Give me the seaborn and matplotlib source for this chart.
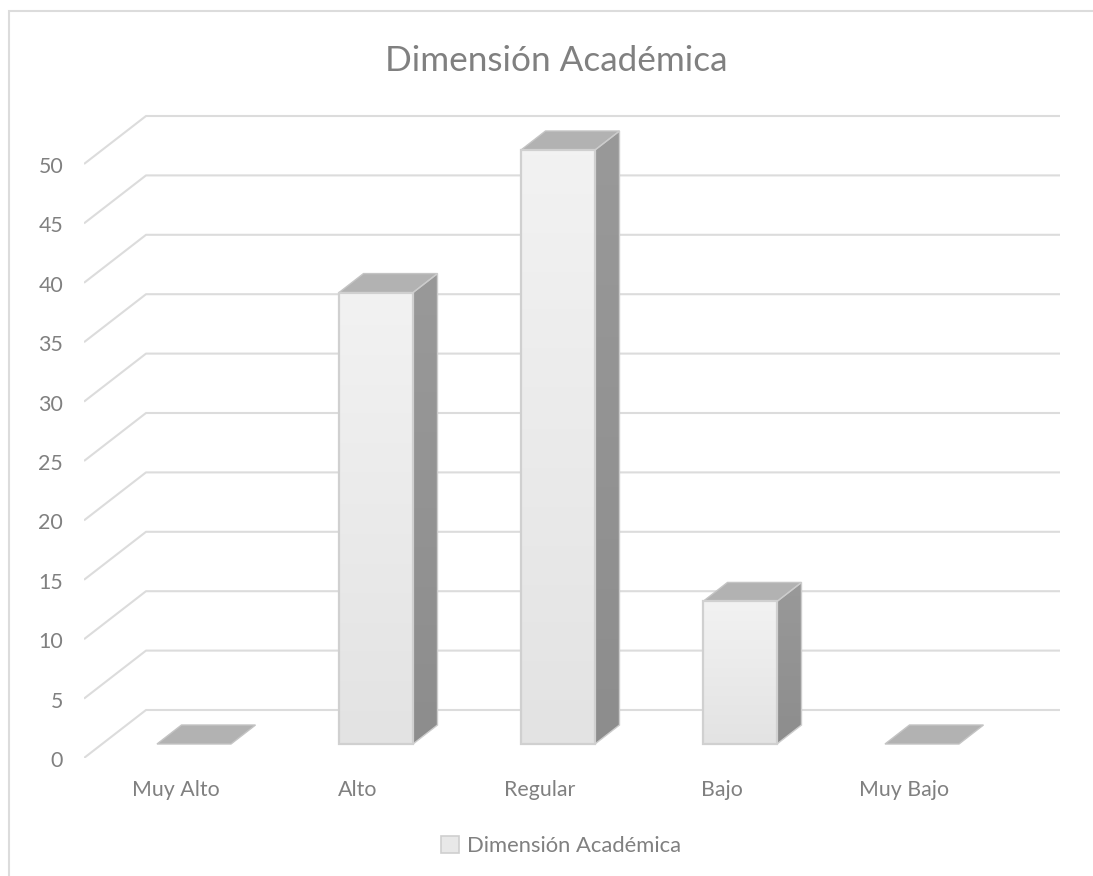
import numpy as np
import pandas as pd
import matplotlib
matplotlib.use("Agg")
import matplotlib.pyplot as plt
from matplotlib.patches import Polygon, Patch, Rectangle
from matplotlib.transforms import ScaledTranslation
from matplotlib.colors import LinearSegmentedColormap
import seaborn as sns

categories = ["Muy Alto", "Alto", "Regular", "Bajo", "Muy Bajo"]
values = [0, 38, 50, 12, 0]
y_ticks = [0, 5, 10, 15, 20, 25, 30, 35, 40, 45, 50]
series_name = "Dimensión Académica"

W, H, DPI = 1093, 876, 100
FONT = ["Lato", "DejaVu Sans"]
TEXT = "#808080"
GRID = "#dcdcdc"
EDGE = "#d0d0d0"

sns.set_theme(style="white")
plt.rcParams["font.family"] = FONT

# pixel layout of the plot
L, R, T, B = 84, 1060, 100, 758
PX_X, PX_Y = 182.0, 11.88   # pixels per category / per unit
X0, Y0 = 194.0, 744.0       # pixel of category 0 / of value 0
BAR_W = 74.0 / PX_X

fig = plt.figure(figsize=(W / DPI, H / DPI), dpi=DPI, facecolor="white")
ax = fig.add_axes([L / W, 1 - B / H, (R - L) / W, (B - T) / H])

df = pd.DataFrame({"categoria": categories, "valor": values})
sns.barplot(data=df, x="categoria", y="valor", color="#e8e8e8", width=BAR_W,
            ax=ax, saturation=1, zorder=4)

xlim = ((L - X0) / PX_X, (R - X0) / PX_X)
ylim = ((Y0 - B) / PX_Y, (Y0 - T) / PX_Y)
ax.set_xlim(*xlim)
ax.set_ylim(*ylim)
ax.set_xlabel("")
ax.set_ylabel("")
for s in ax.spines.values():
    s.set_visible(False)

# wall / floor gridlines
wall_dx, wall_dy = 62 / PX_X, 48 / PX_Y
for v in y_ticks:
    y_front = v + ylim[0]
    ax.plot([xlim[0], xlim[0] + wall_dx, xlim[1]],
            [y_front, y_front + wall_dy, y_front + wall_dy],
            color=GRID, lw=1.5, zorder=1, solid_capstyle="butt")

# 3-D look of the bars
depth_x, depth_y = 24.5 / PX_X, 19 / PX_Y


def gradient(poly_pts, c_top, c_bottom, z):
    cmap = LinearSegmentedColormap.from_list("g", [c_top, c_bottom])
    pts = np.array(poly_pts)
    im = ax.imshow(np.linspace(0, 1, 128).reshape(-1, 1), cmap=cmap, aspect="auto",
                   extent=(pts[:, 0].min(), pts[:, 0].max(), pts[:, 1].min(), pts[:, 1].max()),
                   origin="upper", zorder=z, interpolation="bilinear")
    clip = Polygon(pts, closed=True, transform=ax.transData)
    im.set_clip_path(clip)


for bar, v in zip(ax.patches, values):
    x0, x1 = bar.get_x(), bar.get_x() + bar.get_width()
    # top face
    ax.add_patch(Polygon([(x0, v), (x1, v), (x1 + depth_x, v + depth_y), (x0 + depth_x, v + depth_y)],
                         closed=True, facecolor="#b2b2b2", edgecolor="#c4c4c4", lw=1, zorder=3))
    if v > 0:
        side = [(x1, 0), (x1 + depth_x, depth_y), (x1 + depth_x, v + depth_y), (x1, v)]
        gradient(side, "#999999", "#8d8d8d", 2.5)
        ax.add_patch(Polygon(side, closed=True, facecolor="none", edgecolor="#cccccc", lw=1, zorder=3))
        front = [(x0, 0), (x1, 0), (x1, v), (x0, v)]
        gradient(front, "#f2f2f2", "#e3e3e3", 3.5)
        bar.set_facecolor("none")
        bar.set_edgecolor(EDGE)
        bar.set_linewidth(1.6)
    else:
        bar.set_visible(False)

ax.set_xlim(*xlim)
ax.set_ylim(*ylim)

# ticks
ax.set_yticks(y_ticks)
ax.set_yticklabels([str(v) for v in y_ticks])
ax.set_xticks(range(len(categories)))
ax.set_xticklabels(categories)
ax.tick_params(axis="both", length=0, labelsize=15.4, labelcolor=TEXT)
ax.tick_params(axis="y", pad=15)
ax.tick_params(axis="x", pad=16)
y_shift = ScaledTranslation(0, (ylim[0] * PX_Y - 1) / DPI, fig.dpi_scale_trans)
x_shift = ScaledTranslation(-18 / DPI, 0, fig.dpi_scale_trans)
for lab in ax.get_yticklabels():
    lab.set_transform(lab.get_transform() + y_shift)
for lab in ax.get_xticklabels():
    lab.set_transform(lab.get_transform() + x_shift)

# title and legend
fig.text(556 / W, 1 - 61 / H, series_name, ha="center", va="center",
         fontsize=25.3, color="#808080")
ax.legend(handles=[Patch(facecolor="#e8e8e8", edgecolor="#cfcfcf", lw=1.2, label=series_name)],
          loc="center", bbox_to_anchor=(561 / W, 1 - 846 / H), bbox_transform=fig.transFigure,
          frameon=False, fontsize=15.8, labelcolor=TEXT, handlelength=0.8, handleheight=0.8,
          handletextpad=0.35, borderpad=0)

# chart-area border
fig.add_artist(Rectangle((9 / W, -0.01), 1.02, 1 - 11 / H + 0.01, transform=fig.transFigure,
                         facecolor="none", edgecolor=GRID, lw=1.5))

fig.savefig("out.png", dpi=DPI)
